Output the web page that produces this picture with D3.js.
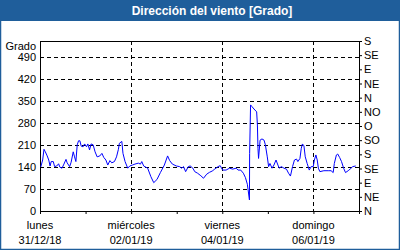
<!DOCTYPE html>
<html>
<head>
<meta charset="utf-8">
<script src="https://cdn.jsdelivr.net/npm/d3@7"></script>
<style>
  body { margin: 0; background: #fff; }
  svg { display: block; font-family: "Liberation Sans", Arial, sans-serif; }
</style>
</head>
<body>
<div id="chart"></div>
<script>
const width = 400,
    height = 250;

// hours since 31/12/18 00:00 and wind direction in degrees
const hours = [0.4, 1.4, 2.1, 2.8, 3.8, 4.6, 5.3, 5.9, 7.0, 7.7, 8.8, 9.8, 10.5, 11.6, 12.6, 13.7, 14.3, 15.6, 16.4, 17.5,
    18.2, 18.9, 19.6, 20.3, 21.0, 21.7, 22.7, 23.5, 24.5, 25.2, 26.1, 26.9, 28.0, 29.0, 30.1, 31.5, 32.6, 33.6, 34.7, 35.7,
    36.8, 37.8, 39.2, 40.3, 41.3, 41.8, 43.1, 43.7, 44.8, 46.2, 47.3, 48.7, 50.0, 51.8, 52.9, 53.6, 54.6, 56.7, 58.4, 59.9,
    61.6, 63.4, 65.5, 67.2, 68.3, 69.7, 71.8, 73.5, 74.6, 75.6, 76.7, 78.1, 79.1, 80.5, 81.5, 83.0, 84.7, 86.1, 87.8, 89.3,
    90.7, 92.0, 93.8, 94.9, 96.2, 98.0, 99.8, 101.5, 103.3, 104.3, 105.7, 107.1, 108.2, 109.2, 109.6, 110.3, 110.4, 110.9, 111.7, 112.7,
    114.1, 114.5, 114.8, 115.1, 115.9, 116.9, 118.0, 118.7, 119.7, 120.4, 121.1, 122.2, 123.2, 124.3, 125.3, 126.0, 127.1, 128.5, 129.8, 130.9,
    131.9, 133.0, 134.0, 135.1, 135.8, 136.9, 137.6, 138.2, 139.0, 139.7, 140.7, 141.8, 142.8, 143.9, 144.5, 145.3, 146.0, 146.6, 147.4, 149.5,
    152.1, 153.3, 154.4, 155.0, 156.1, 156.8, 157.8, 158.8, 159.9, 160.9, 162.3, 163.3, 164.7, 166.3];
const direction = [140, 162, 196, 188, 175, 162, 143, 157, 157, 141, 143, 150, 139, 136, 149, 164, 153, 141, 155, 188,
    172, 157, 210, 223, 223, 206, 204, 213, 204, 213, 194, 213, 210, 188, 172, 175, 183, 170, 162, 146,
    160, 153, 157, 172, 196, 215, 221, 183, 157, 136, 143, 146, 149, 152, 149, 157, 143, 136, 109, 90,
    100, 122, 146, 175, 160, 149, 143, 141, 136, 141, 125, 141, 143, 136, 125, 120, 112, 104, 117, 123,
    127, 133, 141, 144, 130, 130, 136, 133, 136, 130, 130, 120, 106, 85, 67, 35, 183, 337, 331, 324,
    315, 273, 199, 167, 225, 229, 225, 210, 172, 141, 151, 136, 146, 162, 146, 136, 141, 136, 133, 120,
    111, 141, 162, 165, 157, 167, 199, 213, 207, 172, 151, 130, 141, 141, 162, 178, 162, 136, 125, 128,
    128, 128, 122, 151, 178, 181, 170, 157, 136, 122, 128, 133, 141, 143];

const gradoTicks = [0, 70, 140, 210, 280, 350, 420, 490];
const compassLabels = ["N", "NE", "E", "SE", "S", "SO", "O", "NO", "N", "NE", "E", "SE", "S"];
const dayNames = ["lunes", "martes", "miércoles", "jueves", "viernes", "sábado", "domingo", "lunes"];

const start = Date.UTC(2018, 11, 31);
const data = hours.map((h, i) => ({ t: new Date(start + h * 3600e3), v: direction[i] }));

const plot = { left: 40, right: 359, top: 41, bottom: 211 };

const svg = d3.select("#chart").append("svg")
    .attr("width", width)
    .attr("height", height);

// frame and title bar
svg.append("rect")
    .attr("x", 0.5).attr("y", 0.5)
    .attr("width", width - 1).attr("height", height - 1)
    .attr("fill", "#fff")
    .attr("stroke", "#1f5e9b")
    .attr("stroke-width", 1.5);

svg.append("rect")
    .attr("x", 0).attr("y", 0)
    .attr("width", width).attr("height", 21)
    .attr("fill", "#1f5e9b");

svg.append("text")
    .attr("x", 212).attr("y", 15)
    .attr("text-anchor", "middle")
    .attr("fill", "#fff")
    .style("font-weight", "bold")
    .style("font-size", "12px")
    .text("Dirección del viento [Grado]");

const x = d3.scaleUtc()
    .domain([new Date(start), new Date(start + 7 * 24 * 3600e3)])
    .range([plot.left, plot.right]);

const y = d3.scaleLinear()
    .domain([0, 540])
    .range([plot.bottom, plot.top]);

// grid
const grid = svg.append("g")
    .attr("stroke", "#000")
    .attr("stroke-dasharray", "4,3")
    .attr("shape-rendering", "crispEdges");

grid.selectAll("line.h")
    .data(gradoTicks.filter(d => d > 0))
    .enter().append("line")
    .attr("x1", plot.left).attr("x2", plot.right)
    .attr("y1", d => Math.round(y(d)) + 0.5)
    .attr("y2", d => Math.round(y(d)) + 0.5);

const dayTicks = d3.utcDay.range(new Date(start), new Date(start + 7 * 24 * 3600e3 + 1));
grid.selectAll("line.v")
    .data(dayTicks.filter((d, i) => i > 0 && i % 2 === 0))
    .enter().append("line")
    .attr("x1", d => Math.round(x(d)) + 0.5)
    .attr("x2", d => Math.round(x(d)) + 0.5)
    .attr("y1", plot.top).attr("y2", plot.bottom);

// left axis
const yAxis = svg.append("g")
    .attr("transform", `translate(${plot.left},0)`)
    .call(d3.axisLeft(y).tickValues(gradoTicks).tickSize(0).tickPadding(4));
yAxis.select(".domain").remove();
yAxis.selectAll("text").style("font-size", "11px").attr("fill", "#000");

svg.append("text")
    .attr("x", 36).attr("y", 50)
    .attr("text-anchor", "end")
    .style("font-size", "11px")
    .text("Grado");

// right axis with compass points
const yRight = svg.append("g")
    .attr("transform", `translate(${plot.right},0)`)
    .call(d3.axisRight(y).tickValues(d3.range(0, 541, 45)).tickSize(3).tickPadding(2)
        .tickFormat((d, i) => compassLabels[i]));
yRight.select(".domain").remove();
yRight.selectAll("text").style("font-size", "11px").attr("fill", "#000");
yRight.selectAll("line").attr("stroke", "#000");

// bottom axis
const xAxis = svg.append("g")
    .attr("transform", `translate(0,${plot.bottom})`)
    .call(d3.axisBottom(x).tickValues(dayTicks).tickSize(3).tickFormat(""));
xAxis.select(".domain").remove();

const labels = svg.append("g")
    .selectAll("g")
    .data(dayTicks.filter((d, i) => i % 2 === 0 && i < 7))
    .enter().append("g")
    .attr("transform", d => `translate(${x(d)},0)`)
    .attr("text-anchor", "middle")
    .style("font-size", "11px");
labels.append("text").attr("y", 229).text(d => dayNames[d3.utcDay.count(new Date(start), d)]);
labels.append("text").attr("y", 244).text(d => d3.utcFormat("%d/%m/%y")(d));

// plot frame
svg.append("rect")
    .attr("x", plot.left + 0.5).attr("y", plot.top + 0.5)
    .attr("width", plot.right - plot.left - 1 + 1).attr("height", plot.bottom - plot.top)
    .attr("fill", "none")
    .attr("stroke", "#000")
    .attr("shape-rendering", "crispEdges");

// data line
svg.append("path")
    .datum(data)
    .attr("fill", "none")
    .attr("stroke", "#0000ff")
    .attr("stroke-width", 1)
    .attr("d", d3.line().x(d => x(d.t)).y(d => y(d.v)));
</script>
</body>
</html>
